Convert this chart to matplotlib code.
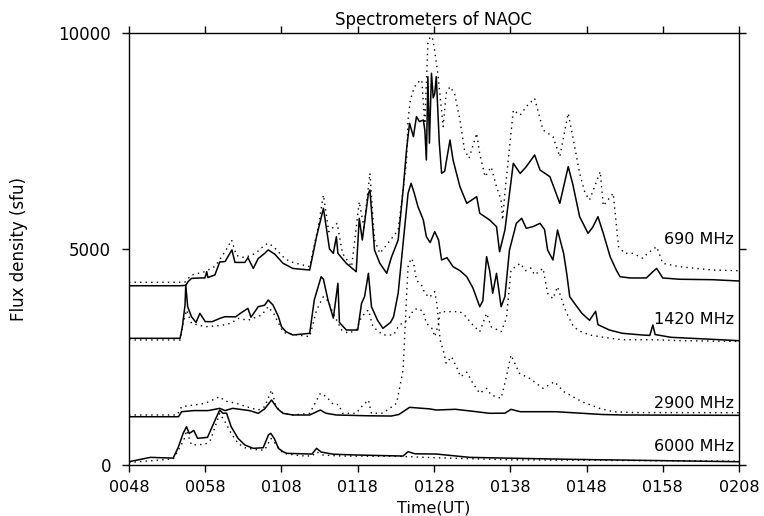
import matplotlib
matplotlib.use("Agg")
import matplotlib.pyplot as plt

# time in minutes after 00:48 UT, flux in sfu
t_s690 = [0, 6.7, 7.47, 7.73, 8.2, 9.3, 9.96, 10.2, 10.35, 11.27, 11.9, 12.6, 13.5, 13.9, 15.2, 15.6,
          16.3, 16.95, 17.8, 18.26, 19.13, 20.2, 21.5, 23.7, 24.6, 25.5, 26.3, 26.8, 27.2, 27.4, 28.5,
          29.8, 30.2, 30.6, 31.4, 31.6, 32.2, 32.9, 33.8, 34.4, 35.3, 35.95, 36.4, 36.8, 37.3, 37.7,
          38.1, 38.6, 38.8, 39.0, 39.2, 39.4, 39.67, 39.9, 40.1, 40.3, 40.7, 41.0, 41.4, 42.1, 42.5,
          43.4, 44.3, 45.6, 46.0, 47.3, 48.2, 48.6, 49.3, 50.4, 51.3, 52.1, 53.2, 53.9, 55.2, 56.5,
          57.6, 58.2, 59.1, 60.2, 60.8, 61.5, 62.2, 63.1, 63.9, 64.4, 65.7, 67.85, 68.7, 69.2, 70.0,
          72.2, 76.5, 80]
f_s690 = [4150, 4150, 4160, 4240, 4320, 4330, 4330, 4475, 4340, 4400, 4700, 4710, 4980, 4690, 4690, 4800,
          4550, 4780, 4900, 4980, 4880, 4670, 4550, 4514, 5285, 5942, 5000, 4900, 5285, 4900, 4669,
          4475, 5711, 5209, 6290, 6366, 4977, 4669, 4438, 4800, 5209, 6366, 7300, 7910, 7600, 8063,
          7950, 7987, 7755, 7061, 8989, 7450, 9068, 8500, 8600, 8989, 7447, 6753, 6800, 7524, 7061,
          6443, 6058, 6211, 5827, 5672, 5517, 4938, 5440, 6984, 6750, 6906, 7177, 6830, 6674, 6058,
          6906, 6500, 5748, 5364, 5500, 5748, 5364, 4822, 4514, 4359, 4330, 4330, 4475, 4550, 4330,
          4300, 4290, 4260]

t_d690 = [0, 7.3, 8.2, 9.96, 11.3, 12.6, 13.46, 14.1, 15.2, 16.6, 17.8, 18.26, 19.0, 20.2, 21.1, 23.7,
          24.8, 25.5, 26.2, 27.3, 28.0, 29.2, 30.2, 30.8, 31.6, 32.2, 32.9, 34.3, 35.3, 35.95, 36.4,
          36.6, 36.9, 37.3, 37.7, 38.4, 38.8, 39.2, 39.67, 40.0, 40.5, 41.2, 41.6, 42.1, 42.7, 43.4,
          44.0, 44.6, 45.6, 46.0, 46.7, 47.5, 48.2, 48.8, 49.0, 49.3, 50.4, 51.3, 52.1, 53.2, 54.3,
          55.6, 56.5, 57.6, 58.2, 59.1, 59.8, 60.4, 61.8, 62.2, 63.5, 64.2, 65.0, 66.1, 67.4, 68.0,
          69.2, 70.0, 72.2, 74.4, 76.6, 80]
f_d690 = [4230, 4230, 4398, 4475, 4600, 4938, 5209, 4850, 4800, 4900, 5093, 5132, 5050, 4822, 4707, 4591,
          5500, 6250, 5400, 5595, 4900, 4591, 6096, 5500, 6753, 5209, 4900, 5209, 5440, 6366, 7061,
          8000, 8450, 8681, 8836, 8913, 7900, 9762, 9994, 9700, 9068, 7832, 8605, 8759, 8600, 7987,
          7293, 7100, 7679, 7200, 6674, 6900, 6443, 6135, 5672, 6300, 8218, 8100, 8295, 8489, 7755,
          7601, 7138, 8142, 7600, 6753, 6300, 6135, 6792, 6000, 6290, 5054, 4900, 4900, 4785, 4900,
          5054, 4669, 4591, 4550, 4514, 4498]

t_s1420 = [0, 6.7, 7.0, 7.35, 7.45, 7.7, 8.2, 8.8, 9.3, 10.0, 10.9, 12.0, 12.6, 14.0, 14.6, 15.6, 16.0,
           16.95, 17.8, 18.26, 18.9, 19.6, 20.0, 20.6, 21.5, 23.7, 24.3, 25.2, 25.5, 26.1, 26.8, 27.4,
           27.6, 28.5, 30.0, 30.5, 30.9, 31.4, 31.8, 32.6, 33.3, 34.3, 34.7, 35.3, 35.95, 36.6, 37.0,
           37.4, 37.9, 38.6, 39.0, 39.5, 40.1, 40.6, 41.0, 41.7, 42.5, 43.4, 44.3, 45.1, 46.0, 46.4,
           46.9, 47.3, 47.7, 48.2, 48.8, 49.3, 49.9, 50.8, 51.5, 52.1, 53.0, 53.9, 54.5, 54.9, 55.6,
           56.2, 57.0, 57.4, 57.8, 58.6, 59.4, 60.4, 61.2, 61.5, 63.0, 64.7, 67.3, 68.3, 68.7, 69.0,
           71.1, 77.6, 80]
f_s1420 = [2933, 2933, 3200, 3700, 4167, 3665, 3433, 3300, 3511, 3320, 3318, 3400, 3433, 3430, 3511, 3627,
           3420, 3665, 3700, 3820, 3700, 3433, 3202, 3086, 3010, 3049, 3820, 4359, 4300, 3820, 3400,
           4206, 3300, 3125, 3125, 3743, 3900, 4438, 3665, 3350, 3164, 3300, 3433, 3975, 5132, 6290,
           6521, 6300, 5980, 5672, 5285, 5150, 5401, 5209, 4746, 4800, 4591, 4500, 4359, 4100, 3665,
           3800, 4822, 4500, 3975, 4438, 3665, 3900, 4977, 5595, 5711, 5479, 5520, 5595, 5450, 4977,
           4746, 5440, 4900, 4438, 3897, 3700, 3511, 3350, 3560, 3250, 3125, 3049, 3010, 3000, 3241,
           3020, 2956, 2900, 2878]

t_d1420 = [0, 6.7, 7.1, 7.55, 8.2, 10.0, 12.1, 13.3, 14.4, 15.6, 17.4, 18.26, 19.0, 20.2, 20.6, 23.7,
           24.6, 25.5, 26.1, 26.8, 27.9, 28.8, 29.8, 30.5, 31.4, 32.0, 33.3, 34.7, 35.3, 35.9, 36.6,
           37.3, 37.9, 38.6, 39.0, 39.8, 40.1, 40.6, 40.8, 42.1, 43.4, 44.1, 45.1, 46.0, 46.9, 47.5,
           48.8, 49.5, 50.1, 51.3, 52.0, 52.7, 53.2, 54.3, 54.9, 55.6, 56.2, 57.0, 57.4, 58.3, 59.1,
           60.4, 62.5, 64.6, 69.0, 72.0, 80]
f_d1420 = [2894, 2894, 3280, 3588, 3280, 3202, 3230, 3280, 3395, 3350, 3472, 3665, 3500, 3086, 3049, 2971,
           3588, 3897, 3800, 3500, 3125, 3050, 3125, 3433, 3588, 3200, 3010, 3010, 3200, 3300, 3357,
           3588, 3627, 3550, 3280, 3150, 2971, 3280, 3550, 3550, 3550, 3450, 3241, 3086, 3511, 3200,
           3086, 3400, 4514, 4669, 4500, 4560, 4400, 4553, 3975, 3850, 4128, 3700, 3511, 3202, 3100,
           3010, 2950, 2900, 2900, 2880, 2860]

t_s2900 = [0, 6.5, 6.9, 8.5, 10.4, 11.9, 12.6, 13.6, 15.8, 16.95, 17.8, 18.7, 19.5, 20.2, 21.5, 23.7,
           25.1, 25.8, 27.2, 31.3, 34.4, 35.4, 36.8, 39.4, 40.3, 42.8, 44.8, 47.3, 49.3, 50.1, 51.3,
           56.0, 62.0, 64.8, 80]
f_s2900 = [1118, 1118, 1234, 1260, 1260, 1312, 1260, 1312, 1260, 1197, 1300, 1505, 1300, 1197, 1158, 1158,
           1273, 1200, 1158, 1140, 1134, 1170, 1335, 1300, 1273, 1290, 1250, 1197, 1200, 1289, 1234,
           1234, 1170, 1158, 1150]

t_d2900 = [0, 6.3, 6.9, 8.2, 10.0, 11.9, 12.6, 14.1, 15.4, 16.95, 17.8, 18.7, 19.3, 20.2, 21.5, 23.7,
           25.1, 25.9, 26.8, 27.5, 28.0, 29.8, 30.5, 31.4, 31.8, 33.3, 35.1, 35.95, 36.4, 36.6, 37.0,
           37.3, 37.7, 38.4, 38.8, 39.4, 40.1, 40.4, 40.8, 41.3, 41.6, 42.3, 43.0, 43.5, 44.3, 45.1,
           46.0, 46.9, 47.5, 48.8, 49.4, 50.1, 51.2, 52.6, 54.3, 55.8, 57.0, 59.4, 61.7, 63.5, 66, 80]
f_d2900 = [1158, 1158, 1350, 1380, 1428, 1582, 1480, 1428, 1350, 1273, 1350, 1736, 1350, 1200, 1158, 1197,
           1659, 1582, 1400, 1400, 1197, 1197, 1350, 1505, 1197, 1200, 1428, 2205, 3897, 4591, 4785,
           4700, 4283, 4150, 3975, 3880, 4013, 3700, 2894, 2600, 2354, 2508, 2250, 2044, 2150, 1891,
           1659, 1775, 1620, 1544, 1968, 2547, 2123, 2000, 1775, 1929, 1700, 1466, 1312, 1234, 1215, 1211]

t_s6000 = [0, 2.8, 5.8, 6.5, 7.1, 7.55, 7.9, 8.5, 9.0, 10.3, 11.3, 11.9, 12.3, 12.8, 13.4, 14.3, 15.2,
           16.3, 17.6, 18.3, 18.6, 19.1, 19.6, 20.2, 20.7, 24.0, 24.6, 25.2, 26.8, 29.8, 35.95, 36.6,
           37.5, 40.3, 44.7, 49.4, 58.2, 80]
f_s6000 = [76, 177, 160, 424, 733, 887, 730, 800, 618, 640, 1042, 1273, 1200, 1200, 887, 618, 463,
           386, 400, 700, 733, 600, 386, 309, 270, 254, 386, 300, 250, 232, 208, 309,
           260, 254, 177, 160, 131, 76]

t_d6000 = [0, 5.8, 6.8, 7.2, 7.55, 8.2, 10.0, 10.7, 11.9, 12.6, 13.4, 14.3, 15.2, 16.95, 17.8, 18.6,
           19.3, 20.2, 22.5, 24.0, 24.6, 25.5, 28, 35.6, 40, 50, 80]
f_d6000 = [60, 140, 450, 579, 800, 463, 480, 580, 1197, 1000, 733, 500, 400, 347, 347, 618,
           480, 270, 215, 208, 300, 230, 208, 200, 170, 120, 90]

tick_pos = [0, 10, 20, 30, 40, 50, 60, 70, 80]
tick_labels = ["0048", "0058", "0108", "0118", "0128", "0138", "0148", "0158", "0208"]
freq_labels = ["690 MHz", "1420 MHz", "2900 MHz", "6000 MHz"]
freq_label_y = [5220, 3360, 1430, 420]

fig = plt.figure(figsize=(7.64, 5.16), dpi=100)
ax = fig.add_axes([0.1688, 0.0988, 0.7985, 0.8372])

solid = dict(color="black", lw=1.1)
dotted = dict(color="black", lw=1.0, linestyle=(0, (1, 3)))

ax.plot(t_s690, f_s690, **solid)
ax.plot(t_d690, f_d690, **dotted)
ax.plot(t_s1420, f_s1420, **solid)
ax.plot(t_d1420, f_d1420, **dotted)
ax.plot(t_s2900, f_s2900, **solid)
ax.plot(t_d2900, f_d2900, **dotted)
ax.plot(t_s6000, f_s6000, **solid)
ax.plot(t_d6000, f_d6000, **dotted)

for lab, y in zip(freq_labels, freq_label_y):
    ax.text(79.3, y, lab, ha="right", va="center", fontsize=11.5)

ax.set_xlim(0, 80)
ax.set_ylim(0, 10000)
ax.set_xticks(tick_pos)
ax.set_xticklabels(tick_labels, fontsize=11.5)
ax.set_yticks([0, 5000, 10000])
ax.set_yticklabels(["0", "5000", "10000"], fontsize=12)
ax.tick_params(direction="out", length=5, width=1, top=True, right=True, pad=8)
ax.tick_params(axis="x", pad=6)
for s in ax.spines.values():
    s.set_linewidth(1.0)

ax.set_title("Spectrometers of NAOC", fontsize=12, pad=6)
ax.set_xlabel("Time(UT)", fontsize=11.5)
ax.xaxis.set_label_coords(0.5, -0.083)
ax.set_ylabel("Flux density (sfu)", fontsize=12, labelpad=22)

plt.savefig("out.png", dpi=100)
